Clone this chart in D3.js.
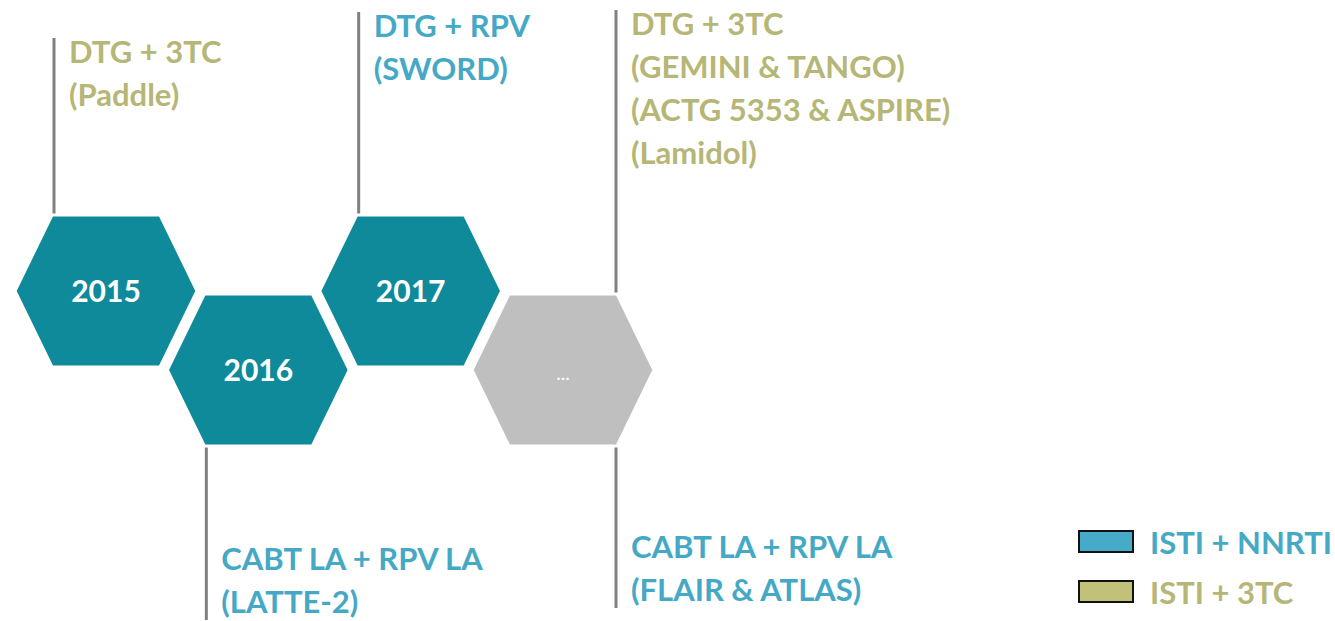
<!DOCTYPE html>
<html>
<head>
<meta charset="utf-8">
<script src="https://cdn.jsdelivr.net/npm/d3@7"></script>
<style>
  body { margin: 0; background: #fff; }
  text { font-family: Lato, "Open Sans", sans-serif; font-weight: bold; }
</style>
</head>
<body>
<div id="chart"></div>
<script>
// Timeline steps (hexagons)
var years = ["2015", "2016", "2017", "..."];
var rows = ["up", "down", "up", "down"];
var stepKind = ["done", "done", "done", "future"];

// Annotations attached to the hexagons
var noteStep = [0, 2, 3, 1, 3];
var noteSide = ["top", "top", "top", "bottom", "bottom"];
var noteCorner = ["left", "left", "right", "left", "right"];
var noteClass = ["ISTI + 3TC", "ISTI + NNRTI", "ISTI + 3TC", "ISTI + NNRTI", "ISTI + NNRTI"];
var noteLines = [
    ["DTG + 3TC", "(Paddle)"],
    ["DTG + RPV", "(SWORD)"],
    ["DTG + 3TC", "(GEMINI & TANGO)", "(ACTG 5353 & ASPIRE)", "(Lamidol)"],
    ["CABT LA + RPV LA", "(LATTE-2)"],
    ["CABT LA + RPV LA", "(FLAIR & ATLAS)"]
];

// Legend
var legendLabels = ["ISTI + NNRTI", "ISTI + 3TC"];

var width = 1335, height = 621;

var svg = d3.select("#chart")
            .append("svg")
            .attr("width", width)
            .attr("height", height);

var x = d3.scalePoint().domain(d3.range(years.length)).range([106, 563]);
var y = d3.scaleOrdinal().domain(["up", "down"]).range([291, 370]);
var hexFill = d3.scaleOrdinal().domain(["done", "future"]).range(["#0f8a9b", "#bfbfbf"]);
var textColor = d3.scaleOrdinal().domain(legendLabels).range(["#45a9c6", "#b6b676"]);
var legendFill = d3.scaleOrdinal().domain(legendLabels).range(["#45abc8", "#c2c17a"]);

// hexagon shape
var hw = 91, hh = 76, tw = 54;
function hexPath(cx, cy) {
    var pts = [[cx - tw, cy - hh], [cx + tw, cy - hh], [cx + hw, cy],
               [cx + tw, cy + hh], [cx - tw, cy + hh], [cx - hw, cy]];
    return d3.line()(pts) + "Z";
}

// connector lines (drawn first, under hexagons)
var lineEnds = { top: [38, 12, 10], bottom: [620, 608] };
var topIdx = 0, botIdx = 0;
var notes = noteStep.map(function(s, i) {
    var side = noteSide[i];
    var end = side === "top" ? lineEnds.top[topIdx++] : lineEnds.bottom[botIdx++];
    var lx = x(s) + (noteCorner[i] === "left" ? -tw + 2 : tw - 1);
    var ly = y(rows[s]) + (side === "top" ? -hh : hh);
    return { i: i, side: side, lx: lx, ly: ly, end: end };
});

svg.selectAll("line.conn")
   .data(notes)
   .enter()
   .append("line")
   .attr("class", "conn")
   .attr("x1", function(d) { return d.lx; })
   .attr("x2", function(d) { return d.lx; })
   .attr("y1", function(d) { return d.ly; })
   .attr("y2", function(d) { return d.end; })
   .attr("stroke", "#808080")
   .attr("stroke-width", 3);

// hexagons
var hex = svg.selectAll("g.hex")
   .data(years)
   .enter()
   .append("g")
   .attr("class", "hex");

hex.append("path")
   .attr("d", function(d, i) { return hexPath(x(i), y(rows[i])); })
   .attr("fill", function(d, i) { return hexFill(stepKind[i]); })
   .attr("stroke", "#fff")
   .attr("stroke-width", 3);

hex.append("text")
   .attr("x", function(d, i) { return x(i); })
   .attr("y", function(d, i) { return y(rows[i]) + (d === "..." ? 10 : 11); })
   .attr("text-anchor", "middle")
   .attr("fill", "#fff")
   .style("font-size", function(d) { return d === "..." ? "19px" : "30px"; })
   .style("font-weight", function(d) { return d === "..." ? "normal" : "bold"; })
   .text(function(d) { return d; });

// annotation text
var lh = 43;
notes.forEach(function(n) {
    var lines = noteLines[n.i];
    var tx = n.lx + 15;
    var first = n.side === "top" ? n.end + 25 : n.end - 7 - lh * (lines.length - 1);
    svg.append("text")
       .attr("fill", textColor(noteClass[n.i]))
       .style("font-size", "31px")
       .selectAll("tspan")
       .data(lines)
       .enter()
       .append("tspan")
       .attr("x", tx)
       .attr("y", function(d, k) { return first + k * lh; })
       .text(function(d) { return d; });
});

// legend
var lg = svg.selectAll("g.legend")
   .data(legendLabels)
   .enter()
   .append("g")
   .attr("class", "legend")
   .attr("transform", function(d, i) { return "translate(1079," + (531 + i * 50) + ")"; });

lg.append("rect")
  .attr("width", 54)
  .attr("height", 21)
  .attr("fill", function(d) { return legendFill(d); })
  .attr("stroke", "#111")
  .attr("stroke-width", 2);

lg.append("text")
  .attr("x", 71)
  .attr("y", 23)
  .attr("fill", function(d) { return textColor(d); })
  .style("font-size", "31px")
  .text(function(d) { return d; });
</script>
</body>
</html>
